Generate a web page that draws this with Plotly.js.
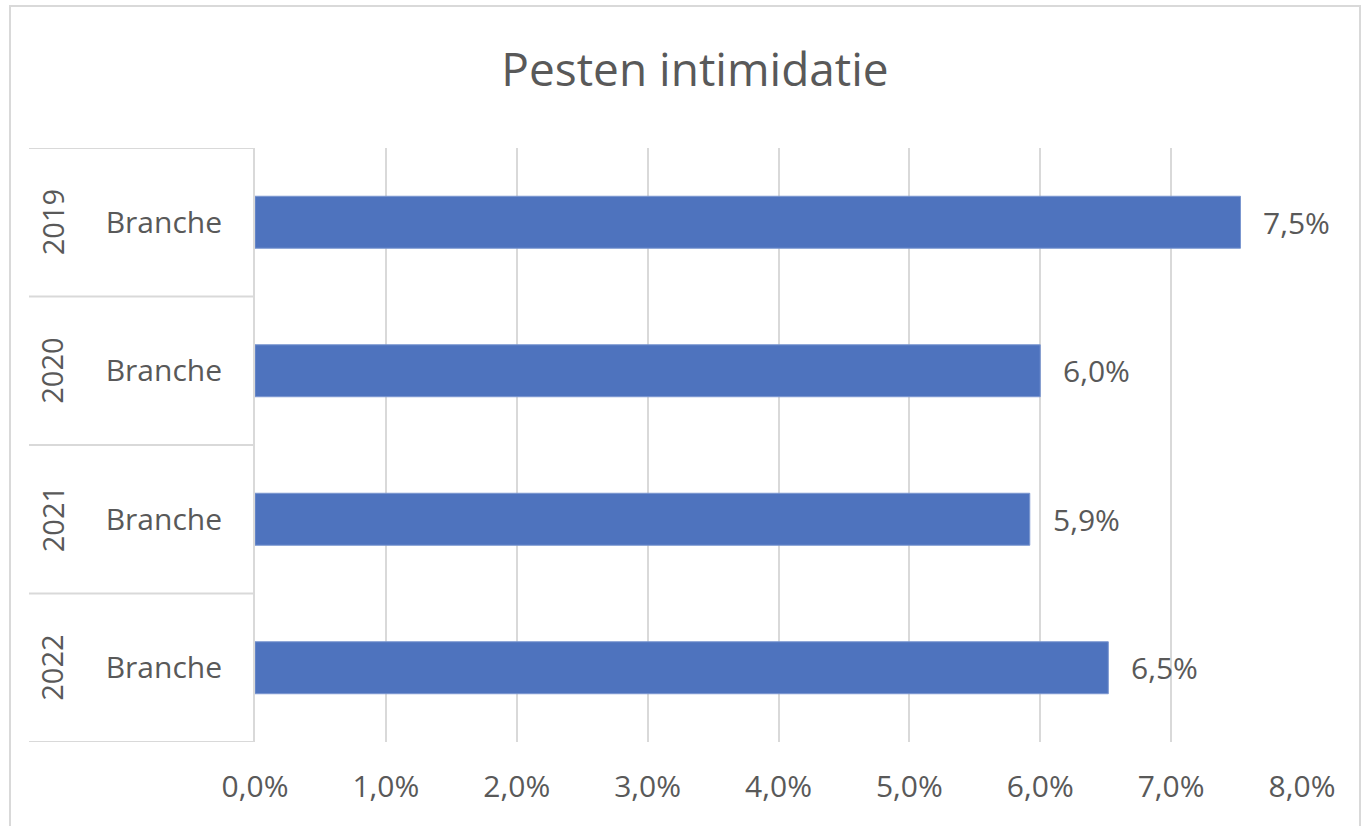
<!DOCTYPE html>
<html>
<head>
<meta charset="utf-8">
<script src="https://cdn.plot.ly/plotly-3.0.1.min.js"></script>
<style>html,body{margin:0;padding:0;background:#fff;}#chart{width:1363px;height:826px;}</style>
</head>
<body>
<div id="chart"></div>
<script>
const years = ['2019', '2020', '2021', '2022'];
const groupLabels = ['Branche', 'Branche', 'Branche', 'Branche'];
const values = [7.53, 6.0, 5.92, 6.52];
const xTicks = [0, 1, 2, 3, 4, 5, 6, 7, 8];

const fmtPct = v => v.toFixed(1).replace('.', ',') + '%';
const valueLabels = values.map(fmtPct);
const xTickLabels = xTicks.map(fmtPct);

const FONT = 'Open Sans, sans-serif';
const TXT = '#595959';
const GRID = '#d9d9d9';

const W = 1363, H = 826;
const mL = 255, mR = 61, mT = 148, mB = 84;
const plotW = W - mL - mR, plotH = H - mT - mB;
const px = p => (p - mL) / plotW;      // pixel x -> paper x
const py = p => (H - mB - p) / plotH;  // pixel y -> paper y

const shapes = [];
// outer chart border
shapes.push({type: 'rect', xref: 'paper', yref: 'paper', x0: px(10), x1: px(1360), y0: py(840), y1: py(6),
  line: {color: GRID, width: 2}, fillcolor: 'rgba(0,0,0,0)', layer: 'below'});
// category separators
for (let i = 0; i <= years.length; i++) {
  shapes.push({type: 'line', xref: 'paper', yref: 'y', x0: px(29), x1: 0, y0: i - 0.5, y1: i - 0.5,
    line: {color: GRID, width: 2}});
}

const annotations = [];
years.forEach((yr, i) => {
  annotations.push({xref: 'paper', yref: 'y', x: px(52), y: i, text: yr, showarrow: false,
    textangle: -90, font: {family: FONT, size: 29, color: TXT}, xanchor: 'center', yanchor: 'middle'});
  annotations.push({xref: 'x', yref: 'y', x: values[i], y: i, text: valueLabels[i], showarrow: false,
    xanchor: 'left', yanchor: 'middle', xshift: 21, font: {family: FONT, size: 30, color: TXT}});
});

const trace = {
  type: 'bar', orientation: 'h',
  x: values, y: years,
  marker: {color: '#4e73be', line: {color: '#7b97d0', width: 1}},
  hoverinfo: 'skip'
};

const layout = {
  width: W, height: H,
  margin: {l: mL, r: mR, t: mT, b: mB, pad: 0},
  paper_bgcolor: '#fff', plot_bgcolor: '#fff',
  showlegend: false,
  bargap: 0.65,
  title: {text: 'Pesten intimidatie', font: {family: FONT, size: 46, color: TXT},
    x: 695 / W, xref: 'container', xanchor: 'center', y: 1 - 70 / H, yanchor: 'middle', yref: 'container'},
  xaxis: {range: [0, 8], tickmode: 'array', tickvals: xTicks, ticktext: xTickLabels,
    showgrid: true, gridcolor: GRID, gridwidth: 2, zeroline: false, showline: false, ticks: '',
    ticklabelstandoff: 24, tickfont: {family: FONT, size: 30, color: TXT}},
  yaxis: {type: 'category', range: [3.5, -0.5],
    tickmode: 'array', tickvals: years, ticktext: groupLabels, ticks: '', showgrid: false, zeroline: false,
    showline: true, linecolor: GRID, linewidth: 2, ticklabelstandoff: 25,
    tickfont: {family: FONT, size: 30, color: TXT}},
  shapes: shapes,
  annotations: annotations
};

Plotly.newPlot('chart', [trace], layout, {displayModeBar: false});
</script>
</body>
</html>
